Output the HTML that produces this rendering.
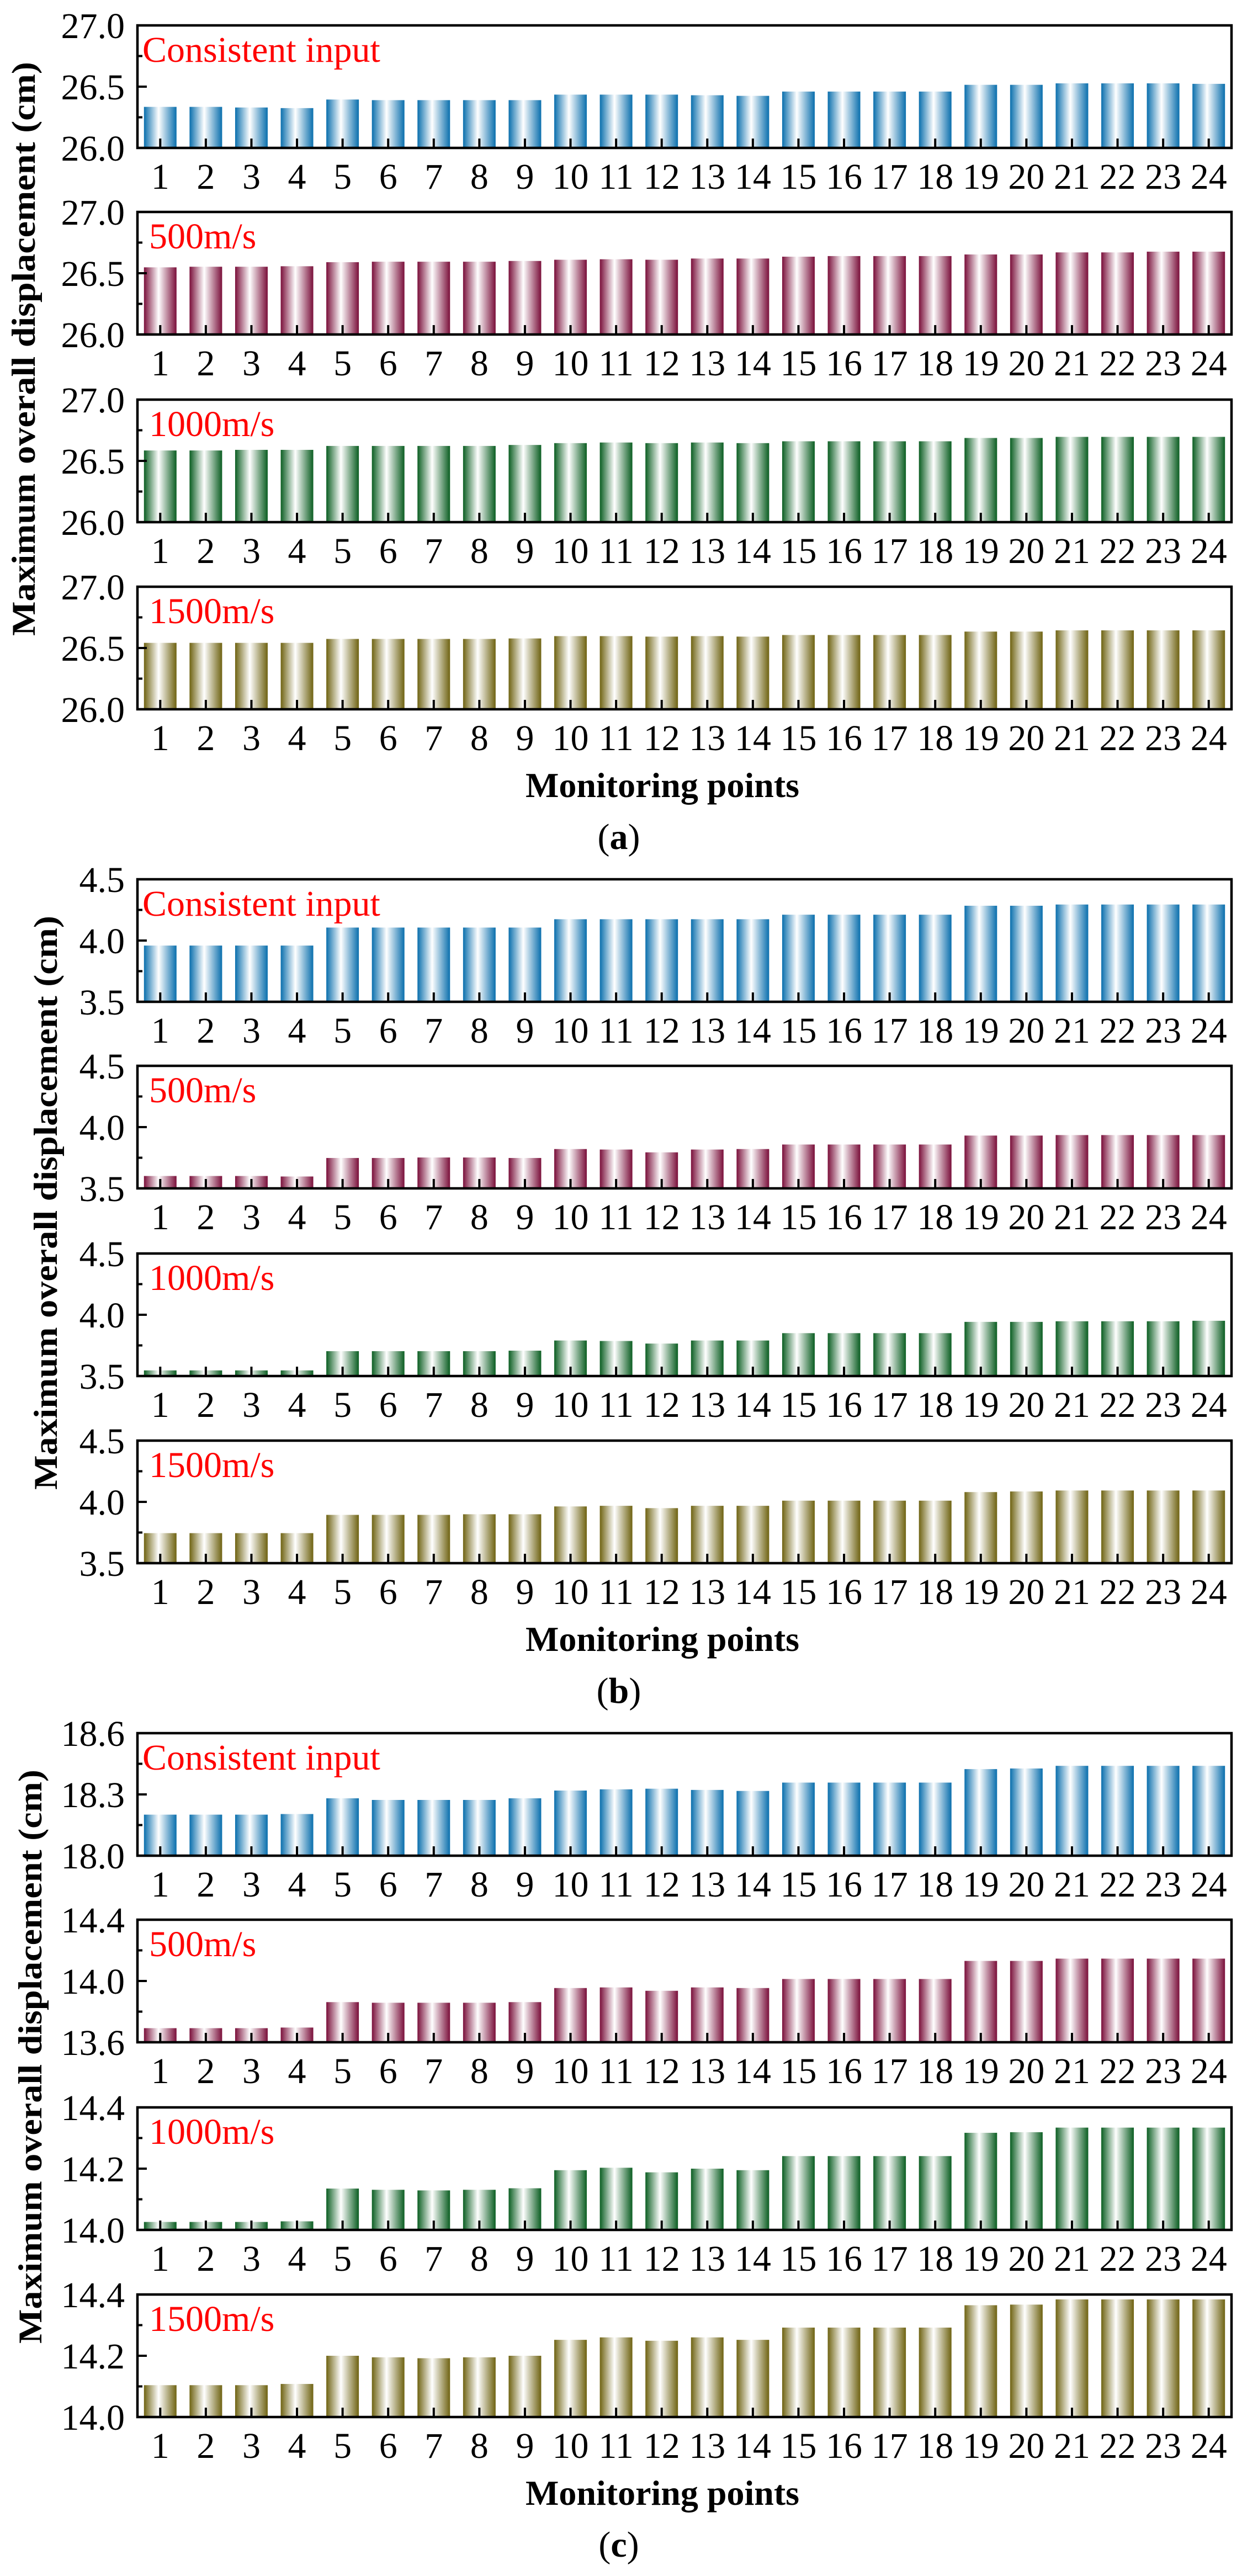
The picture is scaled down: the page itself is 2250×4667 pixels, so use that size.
<!DOCTYPE html>
<html><head><meta charset="utf-8"><style>
html,body{margin:0;padding:0;background:#fff;}
svg{display:block;font-family:"Liberation Serif","DejaVu Serif",serif;}
svg text{font-family:"Liberation Serif","DejaVu Serif",serif !important;}
</style></head><body>
<svg id="fig" width="2250" height="4667" viewBox="0 0 2250 4667" xmlns="http://www.w3.org/2000/svg">
<defs>
<linearGradient id="g0" x1="0" x2="1" y1="0" y2="0"><stop offset="0" stop-color="#0a6fad"/><stop offset="0.45" stop-color="#ffffff"/><stop offset="1" stop-color="#0a6fad"/></linearGradient>
<linearGradient id="g1" x1="0" x2="1" y1="0" y2="0"><stop offset="0" stop-color="#7a0f3a"/><stop offset="0.45" stop-color="#ffffff"/><stop offset="1" stop-color="#7a0f3a"/></linearGradient>
<linearGradient id="g2" x1="0" x2="1" y1="0" y2="0"><stop offset="0" stop-color="#0b5e22"/><stop offset="0.45" stop-color="#ffffff"/><stop offset="1" stop-color="#0b5e22"/></linearGradient>
<linearGradient id="g3" x1="0" x2="1" y1="0" y2="0"><stop offset="0" stop-color="#6f6312"/><stop offset="0.45" stop-color="#ffffff"/><stop offset="1" stop-color="#6f6312"/></linearGradient>
</defs>
</svg>
<script>
const categories = ["1","2","3","4","5","6","7","8","9","10","11","12","13","14","15","16","17","18","19","20","21","22","23","24"];
const seriesNames = ["Consistent input","500m/s","1000m/s","1500m/s"];
const sectionLabels = ["a","b","c"];
const a1 = [26.335,26.335,26.33,26.325,26.395,26.39,26.39,26.39,26.39,26.435,26.435,26.435,26.43,26.425,26.46,26.46,26.46,26.46,26.515,26.515,26.527,26.527,26.527,26.523];
const a2 = [26.548,26.553,26.553,26.557,26.59,26.594,26.594,26.594,26.6,26.61,26.614,26.61,26.62,26.62,26.635,26.64,26.64,26.64,26.653,26.653,26.67,26.67,26.676,26.676];
const a3 = [26.585,26.585,26.59,26.59,26.622,26.622,26.622,26.622,26.63,26.645,26.65,26.645,26.65,26.645,26.66,26.66,26.66,26.66,26.687,26.687,26.696,26.696,26.696,26.696];
const a4 = [26.542,26.542,26.542,26.542,26.574,26.574,26.574,26.574,26.578,26.597,26.597,26.593,26.597,26.593,26.606,26.606,26.606,26.606,26.634,26.634,26.644,26.644,26.644,26.644];
const b1 = [3.959,3.959,3.959,3.959,4.106,4.106,4.106,4.106,4.106,4.174,4.174,4.174,4.174,4.174,4.211,4.211,4.211,4.211,4.284,4.284,4.294,4.294,4.294,4.294];
const b2 = [3.601,3.601,3.601,3.597,3.748,3.748,3.752,3.752,3.748,3.821,3.817,3.794,3.817,3.821,3.858,3.858,3.858,3.858,3.931,3.931,3.935,3.935,3.935,3.935];
const b3 = [3.546,3.546,3.546,3.546,3.703,3.703,3.703,3.703,3.707,3.79,3.786,3.765,3.79,3.79,3.85,3.85,3.85,3.85,3.942,3.942,3.947,3.947,3.947,3.951];
const b4 = [3.745,3.745,3.745,3.745,3.894,3.894,3.894,3.899,3.899,3.963,3.968,3.949,3.968,3.968,4.01,4.01,4.01,4.01,4.08,4.085,4.093,4.093,4.093,4.093];
const c1 = [18.201,18.201,18.201,18.204,18.281,18.273,18.273,18.273,18.281,18.319,18.325,18.328,18.322,18.317,18.358,18.358,18.358,18.358,18.424,18.427,18.44,18.44,18.44,18.44];
const c2 = [13.692,13.692,13.692,13.696,13.862,13.858,13.858,13.858,13.862,13.954,13.958,13.936,13.958,13.954,14.013,14.013,14.013,14.013,14.131,14.131,14.146,14.146,14.146,14.146];
const c3 = [14.026,14.026,14.026,14.028,14.135,14.131,14.129,14.131,14.136,14.195,14.203,14.188,14.2,14.195,14.241,14.241,14.241,14.241,14.317,14.319,14.334,14.334,14.334,14.334];
const c4 = [14.104,14.104,14.104,14.108,14.2,14.195,14.192,14.195,14.2,14.252,14.26,14.249,14.26,14.252,14.292,14.292,14.292,14.292,14.365,14.367,14.384,14.384,14.384,14.384];
const aTicks = ["26.0","26.5","27.0"];
const bTicks = ["3.5","4.0","4.5"];
const c1Ticks = ["18.0","18.3","18.6"];
const c2Ticks = ["13.6","14.0","14.4"];
const c34Ticks = ["14.0","14.2","14.4"];

const panels = [
 [[a1,aTicks],[a2,aTicks],[a3,aTicks],[a4,aTicks]],
 [[b1,bTicks],[b2,bTicks],[b3,bTicks],[b4,bTicks]],
 [[c1,c1Ticks],[c2,c2Ticks],[c3,c34Ticks],[c4,c34Ticks]]
];

const NS = "http://www.w3.org/2000/svg";
const svg = document.getElementById('fig');
function mk(tag, attrs, parent){const e=document.createElementNS(NS,tag);for(const k in attrs)e.setAttribute(k,attrs[k]);(parent||svg).appendChild(e);return e;}

const X0 = 249, X1 = 2231, H = 222;
const subTops = [46,384,724,1063];
const secOff = 1547;
const titleX = [43,83,55];
const band = (X1-X0)/categories.length;
const barW = 59;
function xScale(i){return X0 + band*(i+0.5);}

panels.forEach((sec, s) => {
  const g = mk('g',{});
  
  
  sec.forEach((sp, p) => {
    const vals = sp[0], ticks = sp[1];
    const top = subTops[p] + s*secOff, bot = top + H;
    const lo = parseFloat(ticks[0]), hi = parseFloat(ticks[ticks.length-1]);
    const yScale = v => bot - (v-lo)/(hi-lo)*H;
    const pg = mk('g',{},g);
    
    
    vals.forEach((v,i) => {
      const y = yScale(v);
      const r = mk('rect',{x:xScale(i)-barW/2,y:y,width:barW,height:bot-y,fill:'url(#g'+p+')'},pg);
      
      
    });
    const fr = mk('rect',{x:X0,y:top,width:X1-X0,height:H,fill:'none',stroke:'#000','stroke-width':4.5},pg);
    
    
    categories.forEach((c,i) => {
      const x = xScale(i);
      const t = mk('line',{x1:x,x2:x,y1:bot,y2:bot-17,stroke:'#000','stroke-width':4},pg);
      
      
      const tl = mk('text',{x:x,y:bot+74,'font-size':66,'text-anchor':'middle',fill:'#000'},pg);
      tl.textContent = c;
      
      
    });
    ticks.forEach((tk,j) => {
      const y = yScale(parseFloat(tk));
      const t = mk('line',{x1:X0,x2:X0+17,y1:y,y2:y,stroke:'#000','stroke-width':4},pg);
      
      
      const tl = mk('text',{x:226,y:y+23,'font-size':66,'text-anchor':'end',fill:'#000'},pg);
      tl.textContent = tk;
      
      
      if (j < ticks.length-1) {
        const ym = yScale((parseFloat(tk)+parseFloat(ticks[j+1]))/2);
        const m = mk('line',{x1:X0,x2:X0+9,y1:ym,y2:ym,stroke:'#000','stroke-width':4},pg);
        
        
      }
    });
    const lab = mk('text',{x:p===0?258:270,y:top+66,'font-size':66,fill:'#ff0000'},pg);
    lab.textContent = seriesNames[p];
    
    
  });
  const lastBot = subTops[3] + s*secOff + H;
  const xt = mk('text',{x:1200,y:lastBot+159,'font-size':64,'font-weight':'bold','text-anchor':'middle',fill:'#000'},g);
  xt.textContent = 'Monitoring points';
  
  
  const cap = mk('text',{x:1121,y:lastBot+253,'font-size':66,'text-anchor':'middle',fill:'#000'},g);
  
  
  cap.appendChild(document.createTextNode('('));
  const ts = mk('tspan',{'font-weight':'bold'},cap); ts.textContent = sectionLabels[s];
  cap.appendChild(document.createTextNode(')'));
  const cy = 632 + s*secOff;
  const yt = mk('text',{x:titleX[s],y:cy,'font-size':60,'font-weight':'bold','text-anchor':'middle','dominant-baseline':'central',textLength:1040,lengthAdjust:'spacingAndGlyphs',transform:'rotate(-90 '+titleX[s]+' '+cy+')',fill:'#000'},g);
  yt.textContent = 'Maximum overall displacement (cm)';
  
  
});
</script>
</body></html>
